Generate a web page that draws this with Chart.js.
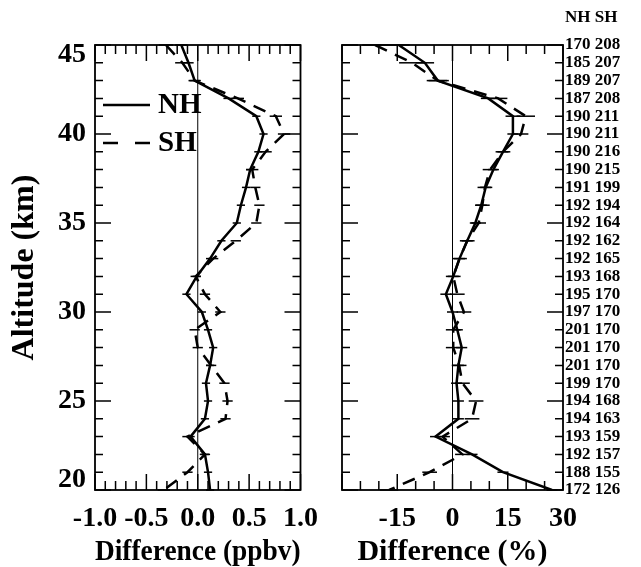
<!DOCTYPE html>
<html>
<head>
<meta charset="utf-8">
<script src="https://cdn.jsdelivr.net/npm/chart.js@4.4.0/dist/chart.umd.min.js"></script>
<style>
  body { margin: 0; background: #fff; }
  #wrap { position: relative; width: 641px; height: 567px; }
  canvas { position: absolute; top: 0; }
</style>
</head>
<body>
<div id="wrap">
  <canvas id="left" width="330" height="567" style="left:0"></canvas>
  <canvas id="right" width="311" height="567" style="left:330px"></canvas>
</div>
<script>
// altitude levels (km), top to bottom
const altitude = [45, 44, 43, 42, 41, 40, 39, 38, 37, 36, 35, 34, 33, 32, 31, 30, 29, 28, 27, 26, 25, 24, 23, 22, 21, 20];

// mean differences, ppbv
const nhPpbv = [-0.16, -0.09, -0.03, 0.30, 0.57, 0.64, 0.59, 0.51, 0.47, 0.42, 0.38, 0.23, 0.12, -0.01, -0.11, 0.04, 0.10, 0.15, 0.12, 0.08, 0.10, 0.07, -0.07, 0.07, 0.10, 0.12];
const shPpbv = [-0.31, -0.15, -0.03, 0.39, 0.76, 0.84, 0.66, 0.53, 0.56, 0.60, 0.57, 0.37, 0.15, -0.02, 0.07, 0.22, -0.03, 0.00, 0.13, 0.26, 0.29, 0.27, -0.10, 0.07, -0.10, -0.33];
const nhPpbvErr = [0.06, 0.05, 0.05, 0.05, 0.04, 0.04, 0.04, 0.04, 0.04, 0.04, 0.04, 0.04, 0.04, 0.04, 0.04, 0.04, 0.04, 0.04, 0.04, 0.04, 0.04, 0.04, 0.04, 0.04, 0.04, 0.04];
const shPpbvErr = [0.07, 0.07, 0.06, 0.06, 0.06, 0.06, 0.06, 0.06, 0.05, 0.05, 0.05, 0.05, 0.05, 0.05, 0.05, 0.05, 0.05, 0.05, 0.05, 0.05, 0.05, 0.05, 0.05, 0.05, 0.05, 0.06];

// mean differences, percent
const nhPct = [-14.6, -7.5, -4.0, 9.7, 16.4, 16.4, 13.7, 11.1, 9.0, 7.8, 6.2, 4.0, 1.9, 0.2, -1.8, 0.0, 1.3, 2.5, 1.6, 1.1, 1.6, 1.6, -4.6, 5.3, 13.7, 27.0];
const shPct = [-21.0, -11.0, -4.0, 12.4, 19.9, 18.6, 13.7, 10.2, 8.8, 8.1, 7.1, 4.0, 1.9, 0.2, 1.3, 3.1, 0.2, 0.2, 1.8, 2.7, 6.4, 5.3, -2.7, 2.7, -6.2, -17.2];
const nhPctErr = [3, 2.5, 2.5, 2, 2, 1.5, 1.5, 1.5, 1.5, 1.5, 1.5, 1.5, 1.5, 1.5, 1.5, 1.5, 1.5, 1.5, 1.5, 1.5, 1.5, 1.5, 1.5, 1.5, 1.5, 1.5];
const shPctErr = [3.5, 3.5, 3, 2.5, 2.5, 2, 2, 2, 2, 2, 2, 2, 2, 2, 2, 2, 2, 2, 2, 2, 2, 2, 2, 2, 2, 2.5];

// number of coincidences per level
const nhCount = [170, 185, 189, 187, 190, 190, 190, 190, 191, 192, 192, 192, 192, 193, 195, 197, 201, 201, 201, 199, 194, 194, 193, 192, 188, 172];
const shCount = [208, 207, 207, 208, 211, 211, 216, 215, 199, 194, 164, 162, 165, 168, 170, 170, 170, 170, 170, 170, 168, 163, 159, 157, 155, 126];

const yTickLabels = [20, 25, 30, 35, 40, 45];
const seriesNames = ['NH', 'SH'];

const FONT = '"Liberation Serif", "Times New Roman", serif';

function pts(vals) {
  return altitude.map((a, i) => ({ x: vals[i], y: a }));
}

function makeSet(name, vals, errs, dashed) {
  return {
    label: name,
    data: pts(vals),
    errors: errs,
    showLine: true,
    borderColor: '#000',
    borderWidth: 2.5,
    borderDash: dashed ? [13, 9] : [],
    pointRadius: 0,
    fill: false
  };
}

// zero line, error bars, frame with inward ticks, labels
const profilePlugin = {
  id: 'profile',
  beforeDatasetsDraw(chart) {
    const { ctx, chartArea: a, scales: { x } } = chart;
    const x0 = x.getPixelForValue(0);
    ctx.save();
    ctx.strokeStyle = '#000';
    ctx.lineWidth = 1;
    ctx.beginPath();
    ctx.moveTo(x0, a.top);
    ctx.lineTo(x0, a.bottom);
    ctx.stroke();
    ctx.restore();
  },
  afterDatasetsDraw(chart) {
    const { ctx, scales: { x, y } } = chart;
    ctx.save();
    ctx.strokeStyle = '#000';
    ctx.lineWidth = 1.5;
    chart.data.datasets.forEach(ds => {
      ds.data.forEach((p, i) => {
        const e = ds.errors[i];
        const py = y.getPixelForValue(p.y);
        ctx.beginPath();
        ctx.moveTo(x.getPixelForValue(p.x - e), py);
        ctx.lineTo(x.getPixelForValue(p.x + e), py);
        ctx.stroke();
      });
    });
    ctx.restore();
  },
  afterDraw(chart, args, opts) {
    const { ctx, chartArea: a, scales: { x, y } } = chart;
    ctx.save();
    ctx.strokeStyle = '#000';
    ctx.lineWidth = 1.8;
    ctx.strokeRect(a.left, a.top, a.right - a.left, a.bottom - a.top);

    // x ticks, top and bottom
    ctx.lineWidth = 1.5;
    const nx = Math.round((x.max - x.min) / opts.xStep);
    for (let k = 0; k <= nx; k++) {
      const v = x.min + k * opts.xStep;
      const r = v / opts.xMajor;
      const len = Math.abs(r - Math.round(r)) < 1e-6 ? 16 : 9;
      const px = x.getPixelForValue(v);
      ctx.beginPath();
      ctx.moveTo(px, a.bottom); ctx.lineTo(px, a.bottom - len);
      ctx.moveTo(px, a.top); ctx.lineTo(px, a.top + len);
      ctx.stroke();
    }
    // y ticks, left and right
    for (let v = y.min; v <= y.max; v++) {
      const len = v % 5 === 0 ? 16 : 8;
      const py = y.getPixelForValue(v);
      ctx.beginPath();
      ctx.moveTo(a.left, py); ctx.lineTo(a.left + len, py);
      ctx.moveTo(a.right, py); ctx.lineTo(a.right - len, py);
      ctx.stroke();
    }

    ctx.fillStyle = '#000';
    if (opts.yLabels) {
      ctx.font = 'bold 28px ' + FONT;
      ctx.textAlign = 'right';
      ctx.textBaseline = 'middle';
      opts.yLabels.forEach(v => {
        let py = y.getPixelForValue(v);
        py = Math.min(Math.max(py, a.top + 10), a.bottom - 10);
        ctx.fillText(String(v), a.left - 9, py);
      });
    }
    if (opts.legend) {
      ctx.font = 'bold 29px ' + FONT;
      ctx.textAlign = 'left';
      ctx.textBaseline = 'middle';
      chart.data.datasets.forEach((ds, i) => {
        const ly = 105 + i * 38;
        ctx.lineWidth = 2.5;
        ctx.setLineDash(ds.borderDash.length ? [15, 17] : []);
        ctx.beginPath();
        ctx.moveTo(103, ly); ctx.lineTo(150, ly);
        ctx.stroke();
        ctx.setLineDash([]);
        ctx.fillText(ds.label, 158, ly + 1);
      });
    }
    if (opts.header) {
      ctx.font = 'bold 17px ' + FONT;
      ctx.textAlign = 'left';
      ctx.textBaseline = 'middle';
      ctx.fillText(opts.header, a.right + 2, 18);
    }
    ctx.restore();
  }
};

function axisFont(size) {
  return { family: FONT, size: size, weight: 'bold' };
}

// left panel: ppbv
new Chart(document.getElementById('left'), {
  type: 'scatter',
  data: {
    datasets: [
      makeSet(seriesNames[0], nhPpbv, nhPpbvErr, false),
      makeSet(seriesNames[1], shPpbv, shPpbvErr, true)
    ]
  },
  options: {
    responsive: false,
    animation: false,
    layout: { padding: { top: 45, right: 8, left: 0, bottom: 0 } },
    plugins: {
      legend: { display: false },
      tooltip: { enabled: false },
      profile: { xStep: 0.1, xMajor: 0.5, yLabels: yTickLabels, legend: true }
    },
    scales: {
      x: {
        type: 'linear', min: -1, max: 1,
        grid: { display: false, drawTicks: false },
        border: { display: false },
        ticks: {
          stepSize: 0.5, color: '#000', font: axisFont(28), padding: 12, maxRotation: 0,
          callback: v => v.toFixed(1)
        },
        title: {
          display: true, text: 'Difference (ppbv)', color: '#000',
          font: { family: FONT, size: 30, weight: 'bold', lineHeight: 1.0 },
          padding: { top: 0, bottom: 0 }
        },
        afterFit(s) { s.height = 77; }
      },
      y: {
        type: 'linear', min: 20, max: 45,
        grid: { display: false, drawTicks: false },
        border: { display: false },
        ticks: { display: false },
        title: {
          display: true, text: 'Altitude (km)', color: '#000',
          font: axisFont(32), padding: { top: 6, bottom: 0 }
        },
        afterFit(s) { s.width = 95; }
      }
    }
  },
  plugins: [profilePlugin]
});

// right panel: percent, with counts on the right axis
new Chart(document.getElementById('right'), {
  type: 'scatter',
  data: {
    datasets: [
      makeSet(seriesNames[0], nhPct, nhPctErr, false),
      makeSet(seriesNames[1], shPct, shPctErr, true)
    ]
  },
  options: {
    responsive: false,
    animation: false,
    layout: { padding: { top: 45, right: 0, left: 7, bottom: 0 } },
    plugins: {
      legend: { display: false },
      tooltip: { enabled: false },
      profile: { xStep: 5, xMajor: 15, header: seriesNames.join(' ') }
    },
    scales: {
      x: {
        type: 'linear', min: -30, max: 30,
        grid: { display: false, drawTicks: false },
        border: { display: false },
        ticks: {
          stepSize: 15, color: '#000', font: axisFont(28), padding: 12, maxRotation: 0,
          callback: v => (v === -30 ? '' : String(v))
        },
        title: {
          display: true, text: 'Difference (%)', color: '#000',
          font: { family: FONT, size: 30, weight: 'bold', lineHeight: 1.0 },
          padding: { top: 0, bottom: 0 }
        },
        afterFit(s) { s.height = 77; }
      },
      y: {
        type: 'linear', min: 20, max: 45, display: false
      },
      y2: {
        type: 'linear', position: 'right', min: 20, max: 45,
        grid: { display: false, drawTicks: false },
        border: { display: false },
        ticks: {
          stepSize: 1, autoSkip: false, color: '#000', font: axisFont(17), padding: 2,
          callback: v => {
            const i = altitude.indexOf(v);
            return i < 0 ? '' : nhCount[i] + ' ' + shCount[i];
          }
        },
        afterFit(s) { s.width = 78; }
      }
    }
  },
  plugins: [profilePlugin]
});
</script>
</body>
</html>
